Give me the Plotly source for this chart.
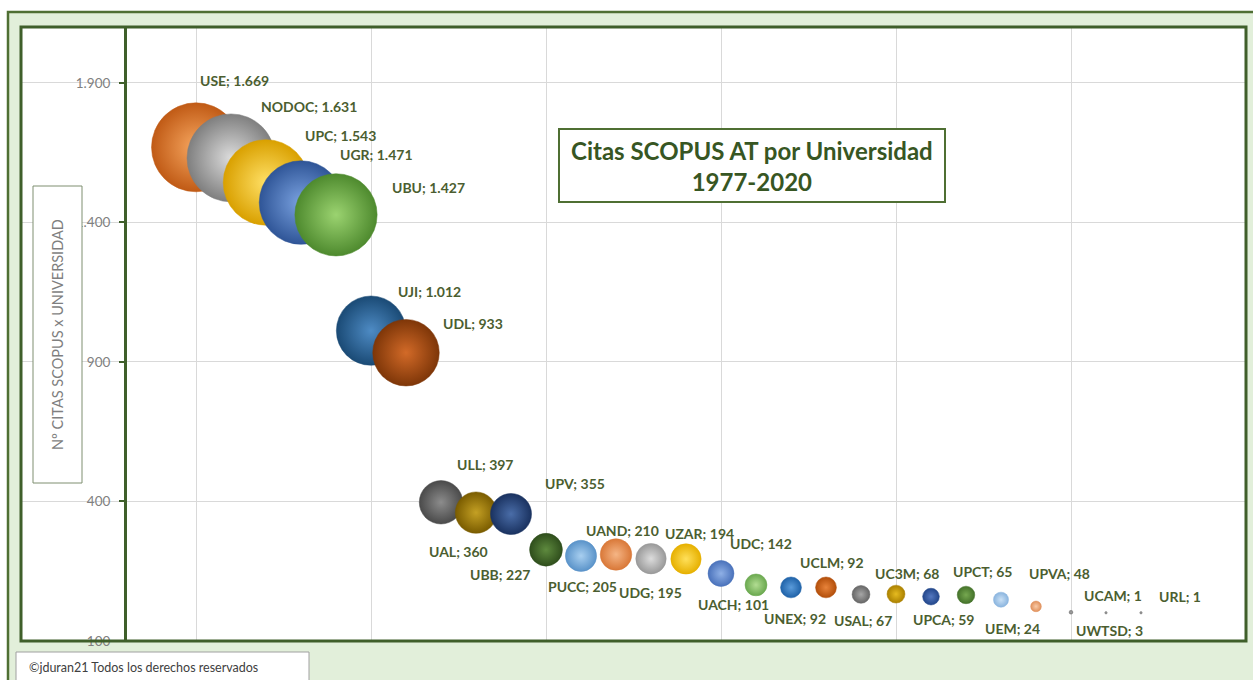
import plotly.graph_objects as go

# ---------------- data ----------------
universidades = ["USE", "NODOC", "UPC", "UGR", "UBU", "UJI", "UDL", "ULL", "UAL", "UPV",
                 "UBB", "PUCC", "UAND", "UDG", "UZAR", "UDC", "UACH", "UNEX", "UCLM", "USAL",
                 "UC3M", "UPCA", "UPCT", "UPVA", "UEM", "UWTSD", "UCAM", "URL"]
citas = [1669, 1631, 1543, 1471, 1427, 1012, 933, 397, 360, 355,
         227, 205, 210, 195, 194, 142, 101, 92, 92, 67,
         68, 59, 65, 48, 24, 3, 1, 1]
posicion = list(range(1, len(universidades) + 1))

y_tickvals = [-100, 400, 900, 1400, 1900]
y_ticktext = ["100", "400", "900", "1.400", "1.900"]

# ---------------- styles ----------------
edge_colors = ["#C05A15", "#7F7F7F", "#D9A000", "#2F5597", "#4E8A2E", "#1A4A75", "#7E3608",
               "#4A4A4A", "#7A5C00", "#1A3260", "#2F4E1C", "#5A93C9", "#D97838", "#999999",
               "#E6B000", "#4A72BB", "#6AA84F", "#1F62A8", "#B24E0A", "#666666", "#AA8000",
               "#22468A", "#44722A", "#8AB4DE", "#E0915C", "#7F7F7F", "#7F7F7F", "#7F7F7F"]
center_colors = ["#F7A760", "#DCDCDC", "#FFE066", "#7AA2E0", "#9BD370", "#4E8BC4", "#D26A28",
                 "#8C8C8C", "#C4A024", "#4A6DA8", "#5E8A3E", "#A8CFF0", "#F5B585", "#DCDCDC",
                 "#FFE05A", "#8FB0E6", "#B2DD92", "#5A9BDA", "#E8833A", "#A6A6A6", "#E6BB20",
                 "#5478C0", "#76A850", "#C9E0F5", "#F9CBA8", "#A6A6A6", "#A6A6A6", "#A6A6A6"]
# label offsets (pixels) relative to bubble centre
label_dx = [2, 28, 37, 37, 54, 25, 35, 14, -49, 32, -78, -35, -32, -34, -23, 7, -60, -29, -28,
            -29, -23, -20, -15, 26, -53, 3, -24, 16]
label_dy = [-67, -51, -47, -48, -27, -39, -29, -38, 39, -31, 25, 31, -24, 34, -25, -30, 20, 31,
            -25, 26, -21, 23, -23, -26, 22, 18, -17, -16]

DARK_GREEN = "#3F5F2A"
LABEL_COLOR = "#4B5E30"
FONT = "Lato"

W, H = 1253, 680
ML, MR, MT, MB = 21, 7, 27, 39
PW, PH = W - ML - MR, H - MT - MB


def px_x(px):
    return (px - ML) / PW


def px_y(py):
    return (H - MB - py) / PH


fig = go.Figure()
fig.add_trace(go.Scatter(
    x=posicion, y=citas, mode="markers",
    marker=dict(size=citas, sizemode="area", sizeref=2 * max(citas) / 89 ** 2, sizemin=1.2,
                opacity=1, color=edge_colors,
                gradient=dict(type="radial", color=center_colors),
                line=dict(width=0.5, color=edge_colors)),
    hovertext=universidades, showlegend=False,
))


def fmt(v):
    return f"{v:,}".replace(",", ".")


annotations = []
for name, xv, yv, dx, dy in zip(universidades, posicion, citas, label_dx, label_dy):
    annotations.append(dict(x=xv, y=yv, xref="x", yref="y", text=f"{name}; {fmt(yv)}",
                            showarrow=False, xanchor="left", yanchor="middle",
                            xshift=dx, yshift=-dy,
                            font=dict(family=FONT, size=14, color=LABEL_COLOR, weight="bold")))

# title
annotations.append(dict(x=(px_x(559) + px_x(945)) / 2, y=(px_y(129) + px_y(202)) / 2,
                        xref="paper", yref="paper", showarrow=False,
                        text="Citas SCOPUS AT por Universidad<br>1977-2020",
                        font=dict(family=FONT, size=24, color="#375623", weight="bold"),
                        xanchor="center", yanchor="middle"))
# y axis title
annotations.append(dict(x=(px_x(33) + px_x(82)) / 2, y=(px_y(186) + px_y(483)) / 2,
                        xref="paper", yref="paper", showarrow=False, textangle=-90,
                        text="Nº CITAS SCOPUS x UNIVERSIDAD",
                        font=dict(family=FONT, size=14.5, color="#7F7F7F"),
                        xanchor="center", yanchor="middle"))
# footer
annotations.append(dict(x=px_x(27), y=px_y(667), xref="paper", yref="paper", showarrow=False,
                        text="©jduran21 Todos los derechos reservados",
                        font=dict(family=FONT, size=12.5, color="#404040"),
                        xanchor="left", yanchor="middle"))

shapes = [
    # outer light-green frame
    dict(type="rect", xref="paper", yref="paper", x0=px_x(8), x1=px_x(1262), y0=px_y(12), y1=px_y(690),
         fillcolor="#E2EFDA", line=dict(color="#4F6F33", width=2.5), layer="below"),
    # inner white panel (incl. label area)
    dict(type="rect", xref="paper", yref="paper", x0=0, x1=1, y0=0, y1=1,
         fillcolor="white", line=dict(width=0), layer="below"),
    # inner border
    dict(type="rect", xref="paper", yref="paper", x0=0, x1=1, y0=0, y1=1,
         line=dict(color=DARK_GREEN, width=3), layer="above"),
    # title box
    dict(type="rect", xref="paper", yref="paper", x0=px_x(559), x1=px_x(945), y0=px_y(202), y1=px_y(129),
         fillcolor="white", line=dict(color="#4F6F33", width=2), layer="above"),
    # y title box
    dict(type="rect", xref="paper", yref="paper", x0=px_x(33), x1=px_x(82), y0=px_y(483), y1=px_y(186),
         fillcolor="white", line=dict(color="#7F8F70", width=1), layer="above"),
    # footer box
    dict(type="rect", xref="paper", yref="paper", x0=px_x(16), x1=px_x(309), y0=px_y(690), y1=px_y(652),
         fillcolor="white", line=dict(color="#A0A0A0", width=1), layer="above"),
]

fig.update_layout(
    width=W, height=H,
    margin=dict(l=ML, r=MR, t=MT, b=MB),
    paper_bgcolor="white", plot_bgcolor="white",
    showlegend=False,
    annotations=annotations, shapes=shapes,
    xaxis=dict(range=[-4, 31], tick0=1, dtick=5, showticklabels=False, ticks="",
               showgrid=True, gridcolor="#D9D9D9", gridwidth=1, zeroline=False, showline=False),
    yaxis=dict(range=[-100, 2100], tickvals=y_tickvals, ticktext=y_ticktext,
               anchor="free", position=px_x(125), side="left",
               showline=True, linecolor=DARK_GREEN, linewidth=3,
               ticks="outside", ticklen=5, tickwidth=2, tickcolor=DARK_GREEN,
               ticklabelstandoff=6,
               tickfont=dict(family=FONT, size=13.5, color="#808080"),
               showgrid=True, gridcolor="#D9D9D9", gridwidth=1, zeroline=False),
)

fig.write_html("out.html", config={"displayModeBar": False},
               post_script="document.body.style.margin='0';document.body.style.overflow='hidden';")
